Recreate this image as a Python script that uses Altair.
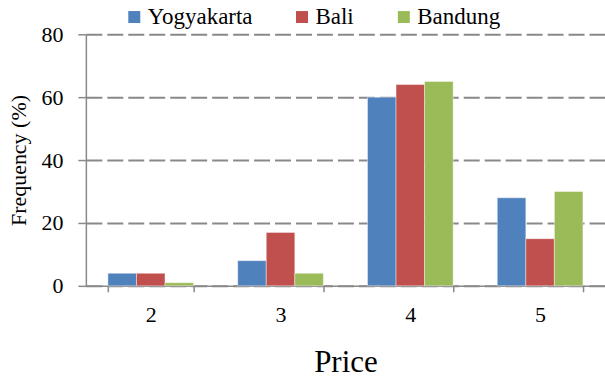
import altair as alt
import pandas as pd

# Price ratings and the share of respondents (%) in each city
prices = ["2", "3", "4", "5"]
cities = ["Yogyakarta", "Bali", "Bandung"]
yogyakarta = [4, 8, 60, 28]
bali = [4, 17, 64, 15]
bandung = [1, 4, 65, 30]
city_colors = ["#4F81BD", "#C0504D", "#9BBB59"]

rows = []
for city, values in zip(cities, [yogyakarta, bali, bandung]):
    for price, v in zip(prices, values):
        rows.append({"Price": price, "City": city, "Frequency": v})
df = pd.DataFrame(rows)

FONT = "Times New Roman, Liberation Serif, Tinos, DejaVu Serif, serif"
GREY = "#898989"

bars = alt.Chart(df).mark_bar(stroke="white", strokeWidth=0.6, strokeOpacity=0.7).encode(
    x=alt.X(
        "Price:N",
        sort=prices,
        scale=alt.Scale(paddingInner=0.34, paddingOuter=0.17),
        axis=alt.Axis(
            title="Price",
            labelAngle=0,
            tickBand="extent",
            domainColor=GREY,
            domainWidth=1.5,
            tickColor=GREY,
            tickWidth=1.5,
            tickSize=6,
            labelFont=FONT,
            labelFontSize=22,
            labelPadding=13,
            titleFont=FONT,
            titleFontSize=31,
            titleFontWeight="normal",
            titlePadding=22,
            labelColor="black",
            titleColor="black",
        ),
    ),
    xOffset=alt.XOffset("City:N", sort=cities, scale=alt.Scale(paddingInner=0, paddingOuter=0)),
    y=alt.Y(
        "Frequency:Q",
        scale=alt.Scale(domain=[0, 80]),
        axis=alt.Axis(
            title="Frequency (%)",
            values=[0, 20, 40, 60, 80],
            grid=True,
            gridDash=[16, 5],
            gridColor=GREY,
            gridWidth=2,
            domainColor=GREY,
            domainWidth=1.5,
            tickColor=GREY,
            tickWidth=1.5,
            tickSize=8,
            labelFont=FONT,
            labelFontSize=22,
            labelPadding=15,
            titleFont=FONT,
            titleFontSize=22,
            titleFontWeight="normal",
            titlePadding=10,
            labelColor="black",
            titleColor="black",
        ),
    ),
    color=alt.Color(
        "City:N",
        sort=cities,
        scale=alt.Scale(domain=cities, range=city_colors),
        legend=alt.Legend(
            title=None,
            orient="none",
            legendX=37,
            legendY=-29,
            direction="horizontal",
            symbolType="square",
            symbolSize=144,
            symbolStrokeWidth=0,
            labelFont=FONT,
            labelFontSize=23,
            labelOffset=2,
            columnPadding=38,
            labelColor="black",
        ),
    ),
).properties(width=520, height=252)

chart = bars.properties(
    autosize=alt.AutoSizeParams(type="none"),
    padding={"left": 86, "top": 34, "right": 0, "bottom": 95},
).configure(font=FONT).configure_view(stroke=None).configure_axis(gridCap="butt")

chart.save("out.html", embed_options={"renderer": "svg", "actions": False})
